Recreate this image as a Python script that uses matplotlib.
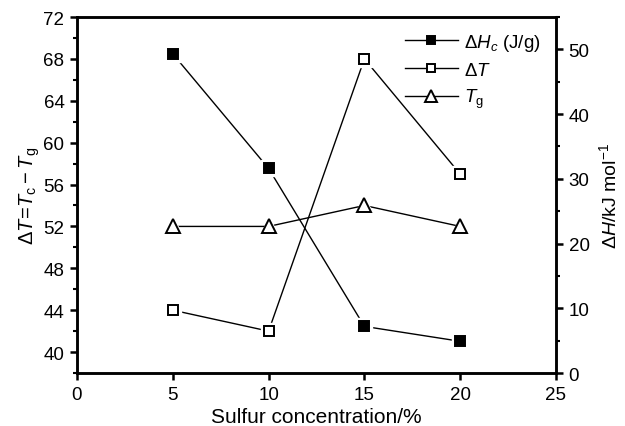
import matplotlib
matplotlib.use("Agg")
import matplotlib.pyplot as plt
from matplotlib.ticker import MultipleLocator

# Sulfur content of the samples and the measured quantities
sulfur = [5, 10, 15, 20]
dH_c = [49.3, 31.6, 7.2, 4.9]      # kJ/mol, right axis
delta_T = [44, 42, 68, 57]         # left axis
T_g = [52, 52, 54, 52]             # left axis

plt.rcParams['font.family'] = ['Liberation Sans', 'DejaVu Sans']
plt.rcParams['mathtext.fontset'] = 'custom'
plt.rcParams['mathtext.rm'] = 'Liberation Sans'
plt.rcParams['mathtext.it'] = 'Liberation Sans:italic'
plt.rcParams['mathtext.bf'] = 'Liberation Sans:bold'


def draw_series(ax, x, y, marker, face, size, label):
    # line first, then a white halo so the line stops short of each marker
    line, = ax.plot(x, y, color='black', lw=1.0, zorder=2)
    ax.plot(x, y, ls='none', marker=marker, ms=size + 4, mfc='white',
            mec='white', zorder=3)
    ax.plot(x, y, ls='none', marker=marker, ms=size, mfc=face,
            mec='black', mew=1.4, zorder=4)
    handle, = ax.plot([], [], color='black', lw=1.0, marker=marker, ms=size - 1.5,
                      mfc=face, mec='black', mew=1.4, label=label)
    return handle


fig = plt.figure(figsize=(6.25, 4.27), dpi=100)
ax = fig.add_axes([0.1232, 0.1241, 0.7664, 0.8337])
ax2 = ax.twinx()

h_dt = draw_series(ax, sulfur, delta_T, 's', 'white', 7.5, r'$\Delta T$')
h_tg = draw_series(ax, sulfur, T_g, '^', 'white', 9.5, r'$T_{\rm g}$')
h_dh = draw_series(ax2, sulfur, dH_c, 's', 'black', 7.5, r'$\Delta H_c$ (J/g)')

ax.set_xlim(0, 25)
ax.set_ylim(38, 72)
ax2.set_ylim(0, 55)

ax.xaxis.set_major_locator(MultipleLocator(5))
ax.yaxis.set_major_locator(MultipleLocator(4))
ax.yaxis.set_minor_locator(MultipleLocator(2))
ax2.yaxis.set_major_locator(MultipleLocator(10))
ax2.yaxis.set_minor_locator(MultipleLocator(5))

for a in (ax, ax2):
    for s in a.spines.values():
        s.set_linewidth(1.8)
ax.tick_params(axis='both', which='major', direction='out', length=5, width=1.8,
               labelsize=13.5, top=False, pad=4)
ax.tick_params(axis='y', which='minor', direction='out', length=3, width=1.5)
ax2.tick_params(axis='y', which='major', direction='out', length=5, width=1.8,
                labelsize=13.5, pad=4)
ax2.tick_params(axis='y', which='minor', direction='out', length=3, width=1.5)

ax.set_xlabel('Sulfur concentration/%', fontsize=15, labelpad=3)
ax.set_ylabel(r'$\Delta T\!=\!T_{\rm c}-T_{\rm g}$', fontsize=14.5, labelpad=1)
ax2.set_ylabel(r'$\Delta H$/kJ mol$^{-1}$', fontsize=14, labelpad=6)

ax2.legend(handles=[h_dh, h_dt, h_tg], loc='upper right', frameon=False,
           fontsize=13.5, handlelength=2.8, handletextpad=0.35, labelspacing=0.45,
           borderaxespad=0.4)

fig.savefig('out.png', dpi=100)
